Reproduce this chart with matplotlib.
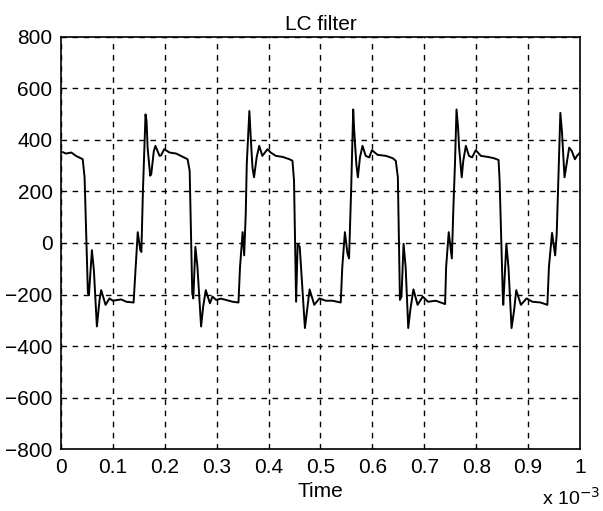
import matplotlib.pyplot as plt

# time in units of 1e-3 s, voltage
t = [0.000, 0.010, 0.020, 0.029, 0.042, 0.0456, 0.052, 0.054, 0.0597, 0.0635, 0.0693, 0.0744,
     0.0776, 0.086, 0.0936, 0.100, 0.116, 0.126, 0.140, 0.144, 0.148, 0.153, 0.155, 0.158,
     0.163, 0.165, 0.167, 0.172, 0.174, 0.179, 0.182, 0.190, 0.193, 0.199, 0.209, 0.222,
     0.235, 0.244, 0.248, 0.253, 0.255, 0.259, 0.263, 0.270, 0.274, 0.279, 0.287, 0.292,
     0.299, 0.308, 0.318, 0.331, 0.342, 0.345, 0.350, 0.353, 0.356, 0.358, 0.363, 0.366,
     0.369, 0.372, 0.377, 0.382, 0.388, 0.393, 0.398, 0.404, 0.414, 0.427, 0.440, 0.446,
     0.449, 0.453, 0.456, 0.460, 0.465, 0.470, 0.475, 0.479, 0.488, 0.498, 0.510, 0.523,
     0.539, 0.542, 0.547, 0.552, 0.555, 0.559, 0.563, 0.565, 0.569, 0.572, 0.576, 0.581,
     0.587, 0.594, 0.599, 0.610, 0.626, 0.639, 0.645, 0.649, 0.653, 0.656, 0.660, 0.664,
     0.669, 0.673, 0.679, 0.687, 0.697, 0.707, 0.722, 0.740, 0.742, 0.747, 0.753, 0.756,
     0.759, 0.762, 0.765, 0.767, 0.772, 0.775, 0.780, 0.786, 0.792, 0.799, 0.809, 0.822,
     0.834, 0.843, 0.845, 0.851, 0.852, 0.858, 0.862, 0.868, 0.873, 0.877, 0.886, 0.897,
     0.908, 0.924, 0.937, 0.940, 0.946, 0.952, 0.955, 0.958, 0.962, 0.965, 0.970, 0.975,
     0.979, 0.984, 0.990, 0.994, 1.000]
v = [355, 347, 351, 338, 325, 255, -195, -202, -28, -105, -324, -221,
     -183, -240, -215, -224, -219, -228, -231, -93, 42, -28, -35, 203,
     499, 473, 370, 261, 267, 357, 377, 338, 340, 364, 351, 347,
     334, 325, 280, -195, -215, -15, -93, -324, -247, -183, -234, -208,
     -221, -216, -221, -228, -231, -93, 42, -48, 113, 306, 512, 396,
     293, 255, 332, 377, 338, 351, 364, 351, 338, 334, 325, 319,
     242, -228, -3, -15, -170, -330, -247, -180, -240, -215, -224, -224,
     -231, -93, 42, -41, -60, 203, 518, 435, 306, 255, 332, 377,
     338, 332, 360, 342, 338, 329, 319, 255, -221, -208, -3, -93,
     -330, -260, -180, -240, -208, -228, -224, -237, -93, 42, -60, 139,
     306, 518, 447, 370, 255, 319, 377, 338, 332, 360, 338, 334,
     329, 322, 242, -195, -240, -3, -93, -330, -260, -183, -240, -215,
     -228, -231, -240, -93, 39, -48, 36, 242, 505, 435, 255, 319,
     370, 357, 325, 338, 351]

xticks = [0, 0.1, 0.2, 0.3, 0.4, 0.5, 0.6, 0.7, 0.8, 0.9, 1]
xticklabels = ['0', '0.1', '0.2', '0.3', '0.4', '0.5', '0.6', '0.7', '0.8', '0.9', '1']
yticks = [-800, -600, -400, -200, 0, 200, 400, 600, 800]

plt.rcParams['font.family'] = ['Liberation Sans', 'DejaVu Sans']

fig = plt.figure(figsize=(6.03, 5.11), dpi=100)
ax = fig.add_axes([0.101, 0.121, 0.861, 0.807])

ax.plot(t, v, color='black', linewidth=1.4)

ax.set_xlim(0, 1)
ax.set_ylim(-800, 800)
ax.set_xticks(xticks)
ax.set_xticklabels(xticklabels)
ax.set_yticks(yticks)
ax.tick_params(direction='in', length=0, labelsize=15, pad=6)
ax.grid(True, color='black', linestyle=(0, (4, 4)), linewidth=1)
for s in ax.spines.values():
    s.set_linewidth(1.2)

ax.set_title('LC filter', fontsize=15, pad=5)
ax.set_xlabel('Time', fontsize=15, labelpad=4)
fig.text(0.995, 0.005, r'x 10$^{-3}$', fontsize=14, ha='right', va='bottom')

fig.savefig('out.png', dpi=100)
